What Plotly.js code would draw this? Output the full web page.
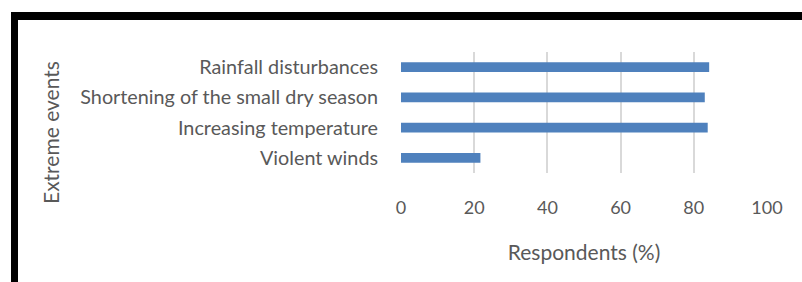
<!DOCTYPE html>
<html>
<head>
<meta charset="utf-8">
<script src="https://cdn.plot.ly/plotly-3.0.1.min.js"></script>
<style>
  html, body { margin: 0; padding: 0; background: #fff; }
  #wrap { position: relative; width: 802px; height: 282px; overflow: hidden; }
  #chart { position: absolute; left: 0; top: 0; width: 802px; height: 282px; }
  #frame { position: absolute; left: 11px; top: 12px; right: -10px; bottom: -10px;
           border-top: 8px solid #000; border-left: 7px solid #000; pointer-events: none; }
</style>
</head>
<body>
<div id="wrap">
  <div id="chart"></div>
  <div id="frame"></div>
</div>
<script>
const categories = ["Violent winds", "Increasing temperature", "Shortening of the small dry season", "Rainfall disturbances"];
const respondents = [21.7, 83.8, 83.0, 84.2];
const xTicks = [0, 20, 40, 60, 80, 100];
const xTitle = "Respondents (%)";
const yTitle = "Extreme events";

const fontFamily = "Lato, 'Open Sans', sans-serif";
const textColor = "#595959";

const trace = {
  type: "bar",
  orientation: "h",
  y: categories,
  x: respondents,
  width: 0.33,
  marker: { color: "#4f81bd" },
  hoverinfo: "skip"
};

const layout = {
  width: 802,
  height: 282,
  margin: { l: 401, r: 35, t: 52, b: 109, pad: 0 },
  paper_bgcolor: "rgba(0,0,0,0)",
  plot_bgcolor: "rgba(0,0,0,0)",
  showlegend: false,
  font: { family: fontFamily, color: textColor, size: 18 },
  xaxis: {
    range: [0, 100],
    tickvals: xTicks,
    ticktext: xTicks.map(String),
    showgrid: true,
    gridcolor: "#d9d9d9",
    gridwidth: 2,
    zeroline: false,
    showline: false,
    ticks: "outside",
    ticklen: 18,
    tickcolor: "rgba(0,0,0,0)",
    tickfont: { family: fontFamily, color: textColor, size: 18 },
    title: { text: xTitle, font: { family: fontFamily, color: textColor, size: 21 }, standoff: 28 },
    fixedrange: true
  },
  yaxis: {
    type: "category",
    categoryorder: "array",
    categoryarray: categories,
    showgrid: false,
    zeroline: false,
    showline: false,
    ticks: "outside",
    ticklen: 18,
    tickcolor: "rgba(0,0,0,0)",
    tickfont: { family: fontFamily, color: textColor, size: 19.8 },
    fixedrange: true
  },
  annotations: [{
    text: yTitle,
    xref: "paper", yref: "paper",
    x: (50 - 401) / 366, y: (173 - 133) / 121,
    xanchor: "center", yanchor: "middle",
    textangle: -90,
    showarrow: false,
    font: { family: fontFamily, color: textColor, size: 21 }
  }]
};

Plotly.newPlot("chart", [trace], layout, { staticPlot: true, displayModeBar: false });
</script>
</body>
</html>
